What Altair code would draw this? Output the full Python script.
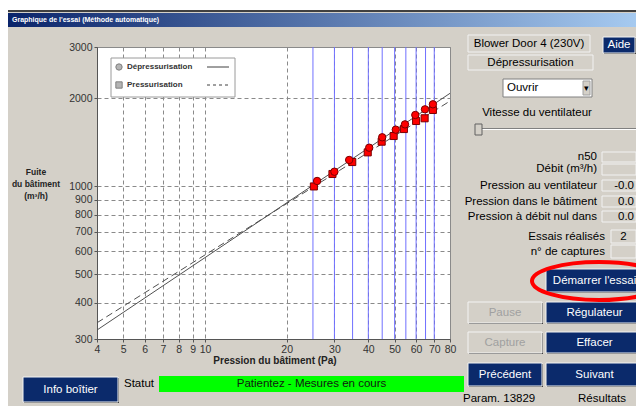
import altair as alt
import pandas as pd

# ---------------- chart values ----------------
dep_p = [25.9, 30.0, 34.0, 40.3, 45.0, 50.5, 54.6, 59.6, 64.7, 69.2]
dep_f = [1043, 1122, 1231, 1356, 1472, 1563, 1630, 1755, 1835, 1909]
pre_p = [25.2, 29.5, 34.9, 39.8, 44.8, 49.6, 54.1, 60.0, 64.5, 69.2]
pre_f = [999, 1102, 1211, 1307, 1422, 1487, 1571, 1674, 1710, 1826]
fit_p = [4, 80]
dep_fit_f = [322, 2082]
pre_fit_f = [341, 1959]
target_p = [25, 30, 35, 40, 45, 50, 55, 60, 65, 70]
x_ticks = [4, 5, 6, 7, 8, 9, 10, 20, 30, 40, 50, 60, 70, 80]
y_ticks = [300, 400, 500, 600, 700, 800, 900, 1000, 2000, 3000]

FONT = "Liberation Sans"
GRAY = "#d4d0c8"
NAVY = "#0b2a6b"
X0, Y0 = 97, 47          # page position of the plot origin
W, H = 353, 292

one = pd.DataFrame({"k": [0]})


def px(X):
    return X - X0


def py(Y):
    return Y - Y0


def rect(x1, y1, x2, y2, fill, stroke=None, sw=1):
    kw = {"fill": fill}
    if stroke is not None:
        kw["stroke"] = stroke
        kw["strokeWidth"] = sw
    else:
        kw["strokeWidth"] = 0
    return alt.Chart(one).mark_rect(**kw).encode(
        x=alt.value(px(x1)), x2=alt.value(px(x2)),
        y=alt.value(py(y1)), y2=alt.value(py(y2)))


def txt(X, Y, s, size=11.5, color="#000000", align="left", weight="normal", lh=12):
    return alt.Chart(one).mark_text(
        text=s, font=FONT, fontSize=size, color=color, align=align,
        baseline="middle", fontWeight=weight, lineHeight=lh).encode(
        x=alt.value(px(X)), y=alt.value(py(Y)))


def hline(x1, x2, Y, color, dash=None, sw=1):
    kw = {"color": color, "strokeWidth": sw}
    if dash:
        kw["strokeDash"] = dash
    return alt.Chart(one).mark_rule(**kw).encode(
        x=alt.value(px(x1)), x2=alt.value(px(x2)), y=alt.value(py(Y)))


def button(x1, y1, x2, y2, label, enabled=True):
    fill = NAVY if enabled else GRAY
    tcol = "#ffffff" if enabled else "#a0a0a0"
    return [
        rect(x1 + 1, y1 + 1, x2 + 1, y2 + 1, "#404040"),
        rect(x1, y1, x2, y2, fill, "#f4f4f4", 1),
        txt((x1 + x2) / 2, (y1 + y2) / 2, label, 11.5, tcol, "center"),
    ]


def field(x1, y1, x2, y2):
    return rect(x1, y1, x2, y2, GRAY, "#f2f2f2", 1)


# ---------------- data layers ----------------
xs = alt.Scale(type="log", domain=[4, 80], nice=False)
ys = alt.Scale(type="log", domain=[300, 3000], nice=False)
axis_common = dict(title=None, grid=True, gridDash=[4, 3], gridColor="#8a8a8a",
                   labelFontSize=10.5, labelFont=FONT, labelColor="#333333",
                   tickSize=3, labelPadding=2, domainColor="#555555",
                   tickColor="#555555", format="d", labelFlush=False)
xax = alt.Axis(values=x_ticks, **axis_common)
yax = alt.Axis(values=y_ticks, **axis_common)

blue = alt.Chart(pd.DataFrame({"p": target_p})).mark_rule(
    color="#7070ff", strokeWidth=1).encode(x=alt.X("p:Q", scale=xs, axis=xax))

dep_line = alt.Chart(pd.DataFrame({"p": fit_p, "f": dep_fit_f})).mark_line(
    color="#505050", strokeWidth=1).encode(
    x=alt.X("p:Q", scale=xs, axis=xax), y=alt.Y("f:Q", scale=ys, axis=yax))
pre_line = alt.Chart(pd.DataFrame({"p": fit_p, "f": pre_fit_f})).mark_line(
    color="#505050", strokeWidth=1, strokeDash=[7, 4]).encode(
    x=alt.X("p:Q", scale=xs, axis=xax), y=alt.Y("f:Q", scale=ys, axis=yax))

pre_pts = alt.Chart(pd.DataFrame({"p": pre_p, "f": pre_f})).mark_point(
    shape="square", filled=True, color="#ff0000", stroke="#7a0000",
    strokeWidth=1, size=50, opacity=1).encode(
    x=alt.X("p:Q", scale=xs, axis=xax), y=alt.Y("f:Q", scale=ys, axis=yax))
dep_pts = alt.Chart(pd.DataFrame({"p": dep_p, "f": dep_f})).mark_point(
    shape="circle", filled=True, color="#ff0000", stroke="#7a0000",
    strokeWidth=1, size=55, opacity=1).encode(
    x=alt.X("p:Q", scale=xs, axis=xax), y=alt.Y("f:Q", scale=ys, axis=yax))

layers = [blue, dep_line, pre_line, pre_pts, dep_pts]

# ---------------- legend inside the plot ----------------
layers += [
    rect(111, 58, 235, 97, "#ffffff", "#9a9a9a", 1),
    alt.Chart(one).mark_point(shape="circle", filled=True, color="#b4b4b4",
                              stroke="#808080", strokeWidth=1, size=40, opacity=1).encode(
        x=alt.value(px(119)), y=alt.value(py(67))),
    alt.Chart(one).mark_point(shape="square", filled=True, color="#b4b4b4",
                              stroke="#808080", strokeWidth=1, size=40, opacity=1).encode(
        x=alt.value(px(119)), y=alt.value(py(85))),
    txt(127, 67, "Dépressurisation", 8, "#333333", "left", "bold"),
    txt(127, 85, "Pressurisation", 8, "#333333", "left", "bold"),
    hline(207, 229, 67, "#404040"),
    hline(207, 229, 85, "#404040", [3, 3]),
]

# ---------------- axis titles ----------------
layers += [
    txt(275, 361, "Pression du bâtiment (Pa)", 10, "#222222", "center", "bold"),
    txt(36, 172, ["Fuite", "du bâtiment", "(m³/h)"], 8.5, "#222222", "center", "bold", 12),
]

# ---------------- window chrome ----------------
title_grad = alt.LinearGradient(
    gradient="linear", x1=0, x2=1, y1=0, y2=0,
    stops=[alt.GradientStop(offset=0, color="#0a246a"),
           alt.GradientStop(offset=1, color="#a6caf0")])
layers += [
    rect(8, 8, 636, 10, "#ffffff"),
    rect(8, 10, 636, 12, "#404040"),
    alt.Chart(one).mark_rect(fill=title_grad, strokeWidth=0).encode(
        x=alt.value(px(8)), x2=alt.value(px(636)),
        y=alt.value(py(13)), y2=alt.value(py(27))),
    txt(12, 20, "Graphique de l'essai (Méthode automatique)", 7, "#ffffff", "left", "bold"),
]

# ---------------- right panel ----------------
layers += [
    field(468, 35, 590, 52),
    txt(529, 43.5, "Blower Door 4 (230V)", 11.5, "#000000", "center"),
]
layers += button(603, 37, 635, 53, "Aide")
layers += [
    field(468, 55, 593, 70),
    txt(530.5, 62.5, "Dépressurisation", 11.5, "#000000", "center"),
    rect(503, 79, 592, 97, "#ffffff", "#808080", 1),
    rect(583, 81, 590, 95, GRAY, "#a0a0a0", 1),
    txt(586.5, 88, "▾", 9, "#000000", "center"),
    txt(507, 88, "Ouvrir", 11.5, "#000000", "left"),
    txt(537, 113, "Vitesse du ventilateur", 11.5, "#000000", "center"),
    rect(475, 128, 636, 129, "#808080"),
    rect(475, 129, 636, 130, "#ffffff"),
    rect(475, 124, 482, 135, GRAY, "#606060", 1),
]
rows = [("n50", 157, 152, 162, ""),
        ("Débit (m³/h)", 169, 164, 175, ""),
        ("Pression au ventilateur", 185.5, 180, 191, "-0.0"),
        ("Pression dans le bâtiment", 201.5, 196, 207, "0.0"),
        ("Pression à débit nul dans", 217, 211, 222, "0.0")]
for lab, yc, y1, y2, val in rows:
    layers += [txt(597, yc, lab, 11.5, "#000000", "right"), field(602, y1, 636, y2)]
    if val:
        layers.append(txt(634, yc, val, 11.5, "#000000", "right"))
layers += [
    txt(605, 237, "Essais réalisés", 11.5, "#000000", "right"),
    field(611, 230, 636, 243),
    txt(623.5, 236.5, "2", 11.5, "#000000", "center"),
    txt(605, 252, "n° de captures", 11.5, "#000000", "right"),
    field(611, 245, 636, 258),
]
layers += button(546, 269, 643, 292, "Démarrer l'essai")
layers += button(468, 302, 542, 323, "Pause", enabled=False)
layers += button(546, 302, 643, 323, "Régulateur")
layers += button(468, 332, 542, 353, "Capture", enabled=False)
layers += button(546, 332, 643, 353, "Effacer")
layers += button(468, 363, 542, 386, "Précédent")
layers += button(546, 363, 643, 386, "Suivant")
layers += [
    txt(463, 398.5, "Param. 13829", 11.5, "#000000", "left"),
    txt(602, 398.5, "Résultats", 11.5, "#000000", "center"),
]

# ---------------- bottom status ----------------
layers += button(23, 377, 118, 402, "Info boîtier")
layers += [
    txt(124, 383.5, "Statut", 11.5, "#000000", "left"),
    rect(159, 376, 464, 392, "#00ff00"),
    txt(311.5, 384, "Patientez - Mesures en cours", 11.5, "#102010", "center"),
]

# ---------------- red ellipse highlight ----------------
ellipse_path = ("M -1 0 C -1 -0.1566 -0.5523 -0.2836 0 -0.2836 "
                "C 0.5523 -0.2836 1 -0.1566 1 0 "
                "C 1 0.1566 0.5523 0.2836 0 0.2836 "
                "C -0.5523 0.2836 -1 0.1566 -1 0 Z")
layers.append(
    alt.Chart(one).mark_point(shape=ellipse_path, filled=False, stroke="#ff0000",
                              strokeWidth=4, size=17956, opacity=1).encode(
        x=alt.value(px(599)), y=alt.value(py(281))))

chart = alt.layer(*layers).properties(
    width=W, height=H,
    autosize=alt.AutoSizeParams(type="none"),
    padding={"left": 89, "top": 39, "right": 186, "bottom": 67},
    background=GRAY,
).configure_view(stroke="#8a8a8a", fill="white")

chart.save("out.html", embed_options={"renderer": "svg", "actions": False})
